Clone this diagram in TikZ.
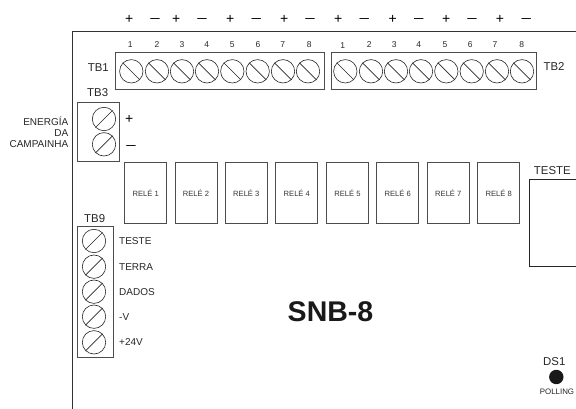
\documentclass[tikz,border=0pt]{standalone}
\usepackage{fontspec}
\setmainfont{Liberation Sans}
\usepackage{tikz}
\usetikzlibrary{positioning}

\tikzset{
  borne/.style={draw=black!70, line width=0.9pt, inner sep=0pt},
  relebox/.style={draw=black!70, line width=0.9pt, minimum width=42pt, minimum height=60.5pt, inner sep=0pt, text=black!80, font=\fontsize{7.6}{9}\selectfont},
  screw/.style={draw=black!85, circle, line width=0.6pt, minimum size=23.4pt, inner sep=0pt},
  slot/.style={draw=black!85, line width=0.7pt},
  bignome/.style={text=black!85, inner sep=0pt, font=\fontsize{11.4}{13}\selectfont},
  smallnome/.style={text=black!85, inner sep=0pt, font=\fontsize{10}{11.3}\selectfont},
  numero/.style={text=black!85, inner sep=0pt, font=\fontsize{8.5}{10}\selectfont},
  polo/.style={text=black, inner sep=0pt, font=\fontsize{14}{14}\selectfont},
  tracinho/.style={text=black, inner sep=0pt, font=\bfseries\fontsize{9.4}{10}\selectfont}
}

\begin{document}
\begin{tikzpicture}[x=1pt,y=-1pt]
\useasboundingbox (0,0) rectangle (576,409);

% placa
\draw[black!80, line width=1pt] (576,32) -- (72,32) -- (72,409);

% TB1 e TB2
\node[borne, minimum width=208.6pt, minimum height=36.3pt] (tb1) at (220,70.9) {};
\node[borne, minimum width=205.4pt, minimum height=36.3pt] (tb2) at (434,70.9) {};
\foreach \n/\x/\nx in {1/131.3/130.3,2/157/157,3/182/182,4/207/206.7,5/232.3/232.3,6/257.7/258,7/283/282.7,8/308/309.3}{
  \node[screw] (a\n) at (\x,71.3) {};
  \draw[slot] (a\n.north west) -- (a\n.south east);
  \node[numero] (na\n) at (\nx,44.3) {\n};
}
\foreach \n/\x/\nx/\ny in {1/345.3/342.7/45.7,2/371/369.3/44.3,3/396/394.3/44.3,4/421/418.7/44.3,5/446.3/445/44.3,6/471.7/470.3/44.3,7/497/495/44.3,8/522/521.7/44.3}{
  \node[screw] (b\n) at (\x,71.3) {};
  \draw[slot] (b\n.north west) -- (b\n.south east);
  \node[numero] (nb\n) at (\nx,\ny) {\n};
}
\node[bignome] (tb1nome) at (98.3,68) {TB1};
\node[bignome] (tb2nome) at (554,67) {TB2};

% polos
\foreach \n/\x in {1/129.3,2/176.3,3/230.3,4/284.3,5/338.3,6/392.7,7/446.3,8/500}{
  \node[polo] (mais\n) at (\x,19.3) {+};
}
\foreach \n/\x in {1/155,2/202,3/256.3,4/310,5/364.3,6/418.7,7/472,8/526.3}{
  \node[tracinho] (menos\n) at (\x,20) {\textemdash};
}

% TB3
\node[borne, minimum width=42pt, minimum height=58.7pt] (tb3) at (98.3,131.7) {};
\node[bignome] (tb3nome) at (97.7,93) {TB3};
\foreach \n/\y in {1/119,2/144.3}{
  \node[screw] (c\n) at (104,\y) {};
  \draw[slot] (c\n.south west) -- (c\n.north east);
}
\node[polo] (tb3mais) at (129.3,119) {+};
\node[tracinho] (tb3menos) at (131,147) {\textemdash};
\node[smallnome, align=right, anchor=east] (energia) at (68.5,132.4) {ENERGÍA\\DA\\CAMPAINHA};

% reles
\foreach \n/\x in {1/145.7,2/196,3/246.3,4/296.8,5/347.5,6/397.7,7/448.3,8/498.7}{
  \node[relebox] (rele\n) at (\x,193.2) {RELÉ \n};
}

% TB9
\node[borne, minimum width=36.3pt, minimum height=131pt] (tb9) at (95.2,291.5) {};
\node[bignome] (tb9nome) at (94.7,219) {TB9};
\foreach \n/\y/\txt in {1/241/TESTE,2/266.7/TERRA,3/291.7/DADOS,4/316.7/-V,5/342.3/+24V}{
  \node[screw] (d\n) at (94,\y) {};
  \draw[slot] (d\n.south west) -- (d\n.north east);
  \node[smallnome, anchor=west] (t\n) at (119,\y) {\txt};
}

% TESTE
\draw[black!85, line width=0.8pt] (576,179) -- (529.3,179) -- (529.3,266.3) -- (576,266.3);
\node[bignome] (testenome) at (552.3,170.7) {TESTE};

% nome da placa
\node[text=black!90, inner sep=0pt, font=\bfseries\fontsize{28.5}{30}\selectfont] (snb) at (330.5,311.5) {SNB-8};

% DS1
\node[fill=black!90, circle, minimum size=14.4pt, inner sep=0pt] (ds1) at (556.3,377) {};
\node[bignome] (ds1nome) at (554.3,361.5) {DS1};
\node[text=black!85, inner sep=0pt, font=\fontsize{7.9}{9}\selectfont] (polling) at (557,392) {POLLING};
\end{tikzpicture}
\end{document}
